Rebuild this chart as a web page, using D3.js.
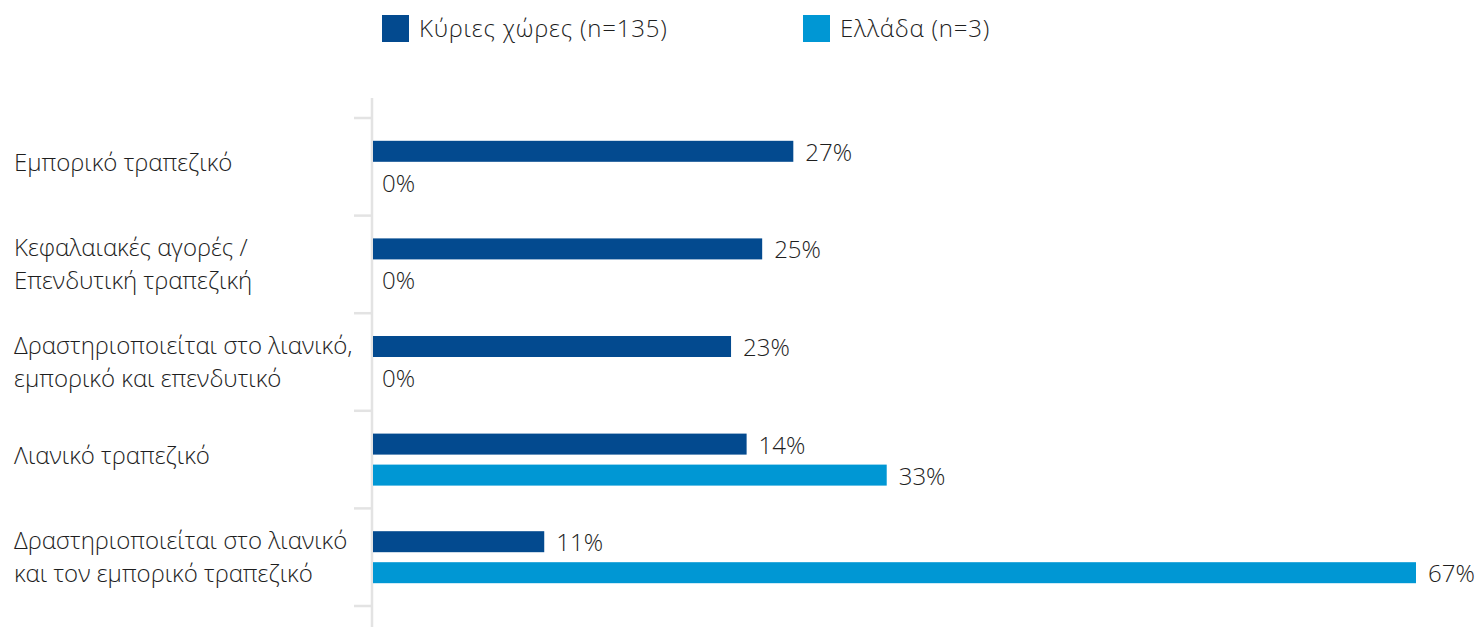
<!DOCTYPE html>
<html>
<head>
<meta charset="utf-8">
<script src="https://cdn.jsdelivr.net/npm/d3@7"></script>
<style>
  body { margin: 0; background: #fff; }
  svg text { font-family: 'Open Sans', 'Noto Sans', sans-serif; font-weight: 300; fill: #1e1e1e; }
  .axis-line { stroke: #e3e3e3; stroke-width: 2.5; }
</style>
</head>
<body>
<svg id="chart" width="1482" height="627"></svg>
<script>
const categories = [
  ['Εμπορικό τραπεζικό'],
  ['Κεφαλαιακές αγορές /', 'Επενδυτική τραπεζική'],
  ['Δραστηριοποιείται στο λιανικό,', 'εμπορικό και επενδυτικό'],
  ['Λιανικό τραπεζικό'],
  ['Δραστηριοποιείται στο λιανικό', 'και τον εμπορικό τραπεζικό']
]
const seriesNames = ['Κύριες χώρες (n=135)', 'Ελλάδα (n=3)']
const colors = ['#034a8f', '#0097d4']

// bar lengths as drawn in the source; the 4th dark bar is drawn longer than its 14% label
const kyriesValues = [27, 25, 23, 24, 11]
const kyriesLabels = ['27%', '25%', '23%', '14%', '11%']
const elladaValues = [0, 0, 0, 33, 67]
const elladaLabels = ['0%', '0%', '0%', '33%', '67%']

const series = [
  { values: kyriesValues, labels: kyriesLabels, color: colors[0] },
  { values: elladaValues, labels: elladaLabels, color: colors[1] }
]

const svg = d3.select('#chart')
const fontSize = 24

const x = d3.scaleLinear().domain([0, 67]).range([373, 1416])
const y = d3.scaleBand().domain(d3.range(categories.length)).range([118, 606]).padding(0)

const barH = 21
const barGap = 10

// axis line + ticks
svg.append('line').classed('axis-line', true)
  .attr('x1', 372).attr('x2', 372).attr('y1', 98).attr('y2', 627)
const tickYs = d3.range(categories.length).map(i => y(i)).concat([y.range()[1]])
svg.selectAll('.tick').data(tickYs).join('line').classed('axis-line', true)
  .attr('x1', 354).attr('x2', 372).attr('y1', d => d).attr('y2', d => d)

// bars
series.forEach((s, si) => {
  const offset = si === 0 ? -(barH + barGap / 2) : barGap / 2
  const g = svg.append('g')
  g.selectAll('rect').data(s.values).join('rect')
    .attr('x', x(0))
    .attr('y', (d, i) => y(i) + y.bandwidth() / 2 + offset)
    .attr('width', d => x(d) - x(0))
    .attr('height', barH)
    .attr('fill', s.color)
  g.selectAll('text').data(s.values).join('text')
    .attr('x', d => x(d) + (d === 0 ? 9 : 12))
    .attr('y', (d, i) => y(i) + y.bandwidth() / 2 + offset + barH / 2 + 1)
    .attr('dy', '0.35em')
    .attr('font-size', fontSize)
    .text((d, i) => s.labels[i])
})

// category labels
const lineH = 33
categories.forEach((lines, i) => {
  const cy = y(i) + y.bandwidth() / 2 - (lines.length === 1 ? 4 : 0)
  const t = svg.append('text').attr('font-size', fontSize)
  lines.forEach((line, j) => {
    t.append('tspan')
      .attr('x', 14)
      .attr('y', cy + (j - (lines.length - 1) / 2) * lineH)
      .attr('dy', '0.35em')
      .text(line)
  })
})

// legend
const legendX = [382, 803]
const legend = svg.append('g')
seriesNames.forEach((name, i) => {
  legend.append('rect')
    .attr('x', legendX[i]).attr('y', 15)
    .attr('width', 27).attr('height', 27)
    .attr('fill', colors[i])
  legend.append('text')
    .attr('x', legendX[i] + 37).attr('y', 29)
    .attr('dy', '0.35em')
    .attr('font-size', fontSize)
    .attr('letter-spacing', 0.8)
    .text(name)
})
</script>
</body>
</html>
